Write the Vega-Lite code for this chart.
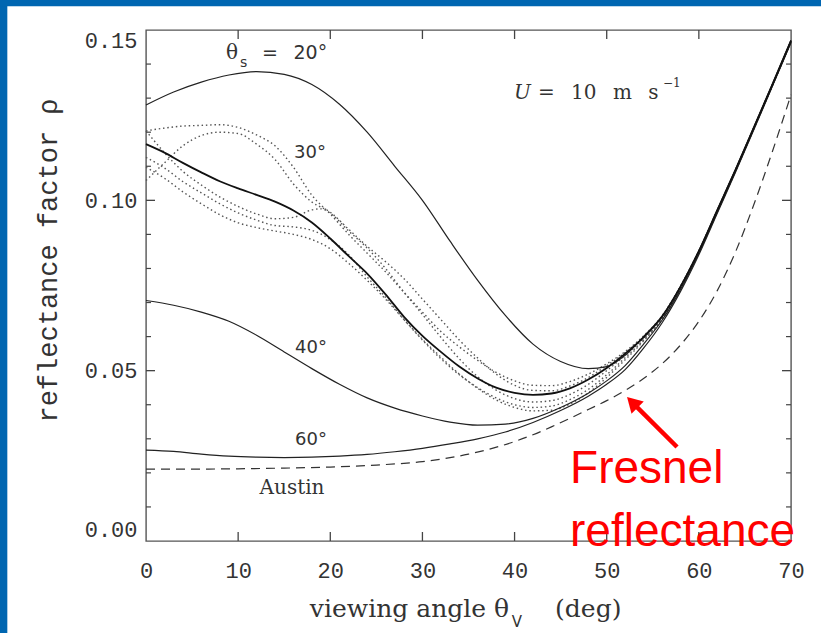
{
  "$schema": "https://vega.github.io/schema/vega-lite/v6.json",
  "width": 645,
  "height": 511,
  "autosize": {"type": "none"},
  "padding": {"left": 146, "top": 30, "right": 30, "bottom": 92},
  "background": "white",
  "config": {
    "view": {"stroke": "#555", "strokeWidth": 1.4},
    "axis": {"domain": false, "grid": false, "ticks": false}
  },
  "datasets": {
    "curves": [
      {"s":"20","x":0,"y":0.1280},{"s":"20","x":3,"y":0.1318},{"s":"20","x":6,"y":0.1347},{"s":"20","x":9,"y":0.1368},{"s":"20","x":12,"y":0.1378},{"s":"20","x":15,"y":0.1370},{"s":"20","x":18,"y":0.1340},{"s":"20","x":21,"y":0.1282},{"s":"20","x":24,"y":0.1200},{"s":"20","x":27,"y":0.1100},{"s":"20","x":30,"y":0.1000},{"s":"20","x":33,"y":0.0880},{"s":"20","x":36,"y":0.0765},{"s":"20","x":39,"y":0.0662},{"s":"20","x":42,"y":0.0578},{"s":"20","x":45,"y":0.0527},{"s":"20","x":48,"y":0.0506},{"s":"20","x":50,"y":0.0512},{"s":"20","x":52,"y":0.0545},{"s":"20","x":54,"y":0.0600},{"s":"20","x":56,"y":0.0660},{"s":"20","x":58,"y":0.0747},{"s":"20","x":60,"y":0.0852},{"s":"20","x":62,"y":0.0972},{"s":"20","x":64,"y":0.1092},{"s":"20","x":66,"y":0.1217},{"s":"20","x":68,"y":0.1342},{"s":"20","x":70,"y":0.1470},
      {"s":"40","x":0,"y":0.0706},{"s":"40","x":3,"y":0.0692},{"s":"40","x":6,"y":0.0672},{"s":"40","x":9,"y":0.0645},{"s":"40","x":12,"y":0.0604},{"s":"40","x":15,"y":0.0555},{"s":"40","x":18,"y":0.0506},{"s":"40","x":21,"y":0.0460},{"s":"40","x":24,"y":0.0420},{"s":"40","x":27,"y":0.0390},{"s":"40","x":30,"y":0.0367},{"s":"40","x":33,"y":0.0349},{"s":"40","x":36,"y":0.0340},{"s":"40","x":39,"y":0.0343},{"s":"40","x":42,"y":0.0360},{"s":"40","x":45,"y":0.0392},{"s":"40","x":48,"y":0.0434},{"s":"40","x":50,"y":0.0470},{"s":"40","x":52,"y":0.0515},{"s":"40","x":54,"y":0.0578},{"s":"40","x":56,"y":0.0648},{"s":"40","x":58,"y":0.0738},{"s":"40","x":60,"y":0.0845},{"s":"40","x":62,"y":0.0966},{"s":"40","x":64,"y":0.1087},{"s":"40","x":66,"y":0.1212},{"s":"40","x":68,"y":0.1338},{"s":"40","x":70,"y":0.1465},
      {"s":"60","x":0,"y":0.0267},{"s":"60","x":3,"y":0.0263},{"s":"60","x":6,"y":0.0255},{"s":"60","x":9,"y":0.0249},{"s":"60","x":12,"y":0.0246},{"s":"60","x":15,"y":0.0245},{"s":"60","x":18,"y":0.0246},{"s":"60","x":21,"y":0.0249},{"s":"60","x":24,"y":0.0254},{"s":"60","x":27,"y":0.0262},{"s":"60","x":30,"y":0.0272},{"s":"60","x":33,"y":0.0285},{"s":"60","x":36,"y":0.0300},{"s":"60","x":39,"y":0.0320},{"s":"60","x":42,"y":0.0348},{"s":"60","x":45,"y":0.0383},{"s":"60","x":48,"y":0.0425},{"s":"60","x":50,"y":0.0460},{"s":"60","x":52,"y":0.0503},{"s":"60","x":54,"y":0.0566},{"s":"60","x":56,"y":0.0640},{"s":"60","x":58,"y":0.0732},{"s":"60","x":60,"y":0.0840},{"s":"60","x":62,"y":0.0962},{"s":"60","x":64,"y":0.1084},{"s":"60","x":66,"y":0.1209},{"s":"60","x":68,"y":0.1336},{"s":"60","x":70,"y":0.1463}
    ],
    "main30": [
      {"x":0,"y":0.1165},{"x":2,"y":0.1140},{"x":4,"y":0.1110},{"x":6,"y":0.1082},{"x":8,"y":0.1056},{"x":10,"y":0.1035},{"x":12,"y":0.1016},{"x":14,"y":0.0996},{"x":16,"y":0.0970},{"x":18,"y":0.0935},{"x":20,"y":0.0888},{"x":22,"y":0.0836},{"x":24,"y":0.0785},{"x":26,"y":0.0724},{"x":28,"y":0.0658},{"x":30,"y":0.0602},{"x":32,"y":0.0555},{"x":34,"y":0.0512},{"x":36,"y":0.0477},{"x":38,"y":0.0450},{"x":40,"y":0.0435},{"x":42,"y":0.0429},{"x":44,"y":0.0433},{"x":46,"y":0.0448},{"x":48,"y":0.0474},{"x":50,"y":0.0508},{"x":52,"y":0.0550},{"x":54,"y":0.0598},{"x":56,"y":0.0658},{"x":58,"y":0.0746},{"x":60,"y":0.0851},{"x":62,"y":0.0971},{"x":64,"y":0.1091},{"x":66,"y":0.1216},{"x":68,"y":0.1341},{"x":70,"y":0.1469}
    ],
    "dotted": [
      {"s":"a","x":0,"y":0.1204},{"s":"a","x":2,"y":0.1212},{"s":"a","x":4,"y":0.1218},{"s":"a","x":6,"y":0.1220},{"s":"a","x":8,"y":0.1222},{"s":"a","x":10,"y":0.1214},{"s":"a","x":12,"y":0.1192},{"s":"a","x":14,"y":0.1160},{"s":"a","x":16,"y":0.1097},{"s":"a","x":18,"y":0.1015},{"s":"a","x":20,"y":0.0960},{"s":"a","x":22,"y":0.0900},{"s":"a","x":24,"y":0.0845},{"s":"a","x":26,"y":0.0790},{"s":"a","x":28,"y":0.0730},{"s":"a","x":30,"y":0.0672},{"s":"a","x":32,"y":0.0615},{"s":"a","x":34,"y":0.0570},{"s":"a","x":36,"y":0.0530},{"s":"a","x":38,"y":0.0495},{"s":"a","x":40,"y":0.0470},{"s":"a","x":42,"y":0.0457},{"s":"a","x":44,"y":0.0456},{"s":"a","x":46,"y":0.0468},{"s":"a","x":48,"y":0.0490},{"s":"a","x":50,"y":0.0520},{"s":"a","x":52,"y":0.0556},{"s":"a","x":54,"y":0.0602},{"s":"a","x":56,"y":0.0661},{"s":"a","x":58,"y":0.0748},{"s":"a","x":60,"y":0.0852},{"s":"a","x":62,"y":0.0971},{"s":"a","x":64,"y":0.1091},{"s":"a","x":66,"y":0.1216},{"s":"a","x":68,"y":0.1341},{"s":"a","x":70,"y":0.1469},
      {"s":"b","x":0,"y":0.1058},{"s":"b","x":2,"y":0.1110},{"s":"b","x":4,"y":0.1160},{"s":"b","x":6,"y":0.1190},{"s":"b","x":8,"y":0.1200},{"s":"b","x":10,"y":0.1196},{"s":"b","x":12,"y":0.1165},{"s":"b","x":14,"y":0.1120},{"s":"b","x":16,"y":0.1048},{"s":"b","x":18,"y":0.0995},{"s":"b","x":20,"y":0.0965},{"s":"b","x":22,"y":0.0915},{"s":"b","x":24,"y":0.0865},{"s":"b","x":26,"y":0.0820},{"s":"b","x":28,"y":0.0770},{"s":"b","x":30,"y":0.0710},{"s":"b","x":32,"y":0.0650},{"s":"b","x":34,"y":0.0590},{"s":"b","x":36,"y":0.0537},{"s":"b","x":38,"y":0.0490},{"s":"b","x":40,"y":0.0457},{"s":"b","x":42,"y":0.0442},{"s":"b","x":44,"y":0.0441},{"s":"b","x":46,"y":0.0455},{"s":"b","x":48,"y":0.0480},{"s":"b","x":50,"y":0.0515},{"s":"b","x":52,"y":0.0553},{"s":"b","x":54,"y":0.0599},{"s":"b","x":56,"y":0.0657},{"s":"b","x":58,"y":0.0745},{"s":"b","x":60,"y":0.0850},{"s":"b","x":62,"y":0.0970},{"s":"b","x":64,"y":0.1090},{"s":"b","x":66,"y":0.1215},{"s":"b","x":68,"y":0.1340},{"s":"b","x":70,"y":0.1468},
      {"s":"c","x":0,"y":0.1204},{"s":"c","x":2,"y":0.1140},{"s":"c","x":4,"y":0.1085},{"s":"c","x":6,"y":0.1045},{"s":"c","x":8,"y":0.1010},{"s":"c","x":10,"y":0.0982},{"s":"c","x":12,"y":0.0960},{"s":"c","x":14,"y":0.0946},{"s":"c","x":16,"y":0.0950},{"s":"c","x":18,"y":0.0972},{"s":"c","x":19,"y":0.0975},{"s":"c","x":20,"y":0.0962},{"s":"c","x":22,"y":0.0910},{"s":"c","x":24,"y":0.0860},{"s":"c","x":26,"y":0.0800},{"s":"c","x":28,"y":0.0730},{"s":"c","x":30,"y":0.0665},{"s":"c","x":32,"y":0.0598},{"s":"c","x":34,"y":0.0535},{"s":"c","x":36,"y":0.0482},{"s":"c","x":38,"y":0.0443},{"s":"c","x":40,"y":0.0418},{"s":"c","x":42,"y":0.0408},{"s":"c","x":44,"y":0.0412},{"s":"c","x":46,"y":0.0430},{"s":"c","x":48,"y":0.0460},{"s":"c","x":50,"y":0.0500},{"s":"c","x":52,"y":0.0545},{"s":"c","x":54,"y":0.0594},{"s":"c","x":56,"y":0.0654},{"s":"c","x":58,"y":0.0743},{"s":"c","x":60,"y":0.0848},{"s":"c","x":62,"y":0.0968},{"s":"c","x":64,"y":0.1089},{"s":"c","x":66,"y":0.1214},{"s":"c","x":68,"y":0.1339},{"s":"c","x":70,"y":0.1467},
      {"s":"d","x":0,"y":0.1126},{"s":"d","x":2,"y":0.1095},{"s":"d","x":4,"y":0.1055},{"s":"d","x":6,"y":0.1022},{"s":"d","x":8,"y":0.0990},{"s":"d","x":10,"y":0.0963},{"s":"d","x":12,"y":0.0942},{"s":"d","x":14,"y":0.0926},{"s":"d","x":16,"y":0.0922},{"s":"d","x":18,"y":0.0912},{"s":"d","x":20,"y":0.0885},{"s":"d","x":22,"y":0.0840},{"s":"d","x":24,"y":0.0775},{"s":"d","x":26,"y":0.0715},{"s":"d","x":28,"y":0.0650},{"s":"d","x":30,"y":0.0590},{"s":"d","x":32,"y":0.0535},{"s":"d","x":34,"y":0.0488},{"s":"d","x":36,"y":0.0450},{"s":"d","x":38,"y":0.0420},{"s":"d","x":40,"y":0.0400},{"s":"d","x":42,"y":0.0392},{"s":"d","x":44,"y":0.0396},{"s":"d","x":46,"y":0.0415},{"s":"d","x":48,"y":0.0445},{"s":"d","x":50,"y":0.0488},{"s":"d","x":52,"y":0.0538},{"s":"d","x":54,"y":0.0590},{"s":"d","x":56,"y":0.0652},{"s":"d","x":58,"y":0.0742},{"s":"d","x":60,"y":0.0847},{"s":"d","x":62,"y":0.0967},{"s":"d","x":64,"y":0.1088},{"s":"d","x":66,"y":0.1213},{"s":"d","x":68,"y":0.1339},{"s":"d","x":70,"y":0.1466},
      {"s":"e","x":0,"y":0.1097},{"s":"e","x":2,"y":0.1065},{"s":"e","x":4,"y":0.1025},{"s":"e","x":6,"y":0.0990},{"s":"e","x":8,"y":0.0958},{"s":"e","x":10,"y":0.0934},{"s":"e","x":12,"y":0.0920},{"s":"e","x":14,"y":0.0910},{"s":"e","x":16,"y":0.0900},{"s":"e","x":18,"y":0.0885},{"s":"e","x":20,"y":0.0858},{"s":"e","x":22,"y":0.0815},{"s":"e","x":24,"y":0.0765},{"s":"e","x":26,"y":0.0710},{"s":"e","x":28,"y":0.0650},{"s":"e","x":30,"y":0.0592},{"s":"e","x":32,"y":0.0540},{"s":"e","x":34,"y":0.0490},{"s":"e","x":36,"y":0.0448},{"s":"e","x":38,"y":0.0414},{"s":"e","x":40,"y":0.0392},{"s":"e","x":42,"y":0.0382},{"s":"e","x":44,"y":0.0384},{"s":"e","x":46,"y":0.0402},{"s":"e","x":48,"y":0.0435},{"s":"e","x":50,"y":0.0480},{"s":"e","x":52,"y":0.0532},{"s":"e","x":54,"y":0.0587},{"s":"e","x":56,"y":0.0650},{"s":"e","x":58,"y":0.0740},{"s":"e","x":60,"y":0.0846},{"s":"e","x":62,"y":0.0966},{"s":"e","x":64,"y":0.1087},{"s":"e","x":66,"y":0.1212},{"s":"e","x":68,"y":0.1338},{"s":"e","x":70,"y":0.1465}
    ],
    "fresnel": [
      {"x":0,"y":0.0211},{"x":5,"y":0.0211},{"x":10,"y":0.0212},{"x":15,"y":0.0214},{"x":20,"y":0.0217},{"x":25,"y":0.0223},{"x":30,"y":0.0233},{"x":35,"y":0.0255},{"x":40,"y":0.0292},{"x":42,"y":0.0312},{"x":44,"y":0.0335},{"x":46,"y":0.0360},{"x":48,"y":0.0386},{"x":50,"y":0.0412},{"x":52,"y":0.0442},{"x":54,"y":0.0477},{"x":56,"y":0.0520},{"x":58,"y":0.0575},{"x":60,"y":0.0645},{"x":62,"y":0.0735},{"x":64,"y":0.0850},{"x":66,"y":0.0990},{"x":68,"y":0.1145},{"x":70,"y":0.1310}
    ],
    "xticks": [{"v":10},{"v":20},{"v":30},{"v":40},{"v":50},{"v":60}],
    "ymajor": [{"v":0.05},{"v":0.10}],
    "yminor": [{"v":0.01},{"v":0.02},{"v":0.03},{"v":0.04},{"v":0.06},{"v":0.07},{"v":0.08},{"v":0.09},{"v":0.11},{"v":0.12},{"v":0.13},{"v":0.14}]
  },
  "resolve": {"axis": {"x": "independent", "y": "independent"}},
  "layer": [
    {
      "data": {"values": [{}]},
      "mark": {"type": "rect", "color": "#0066b1"},
      "encoding": {
        "x": {"datum": -17, "type": "quantitative", "scale": {"domain": [0, 70], "nice": false}, "axis": null},
        "x2": {"datum": -15.05},
        "y": {"datum": -0.05, "type": "quantitative", "scale": {"domain": [0, 0.15], "nice": false, "zero": false}, "axis": null},
        "y2": {"datum": 0.17}
      }
    },
    {
      "data": {"values": [{}]},
      "mark": {"type": "rect", "color": "#0066b1"},
      "encoding": {
        "x": {"datum": -17, "type": "quantitative", "axis": null},
        "x2": {"datum": 75},
        "y": {"datum": 0.1570, "type": "quantitative", "axis": null},
        "y2": {"datum": 0.17}
      }
    },
    {
      "data": {"values": [{"x": 0, "y": 0}]},
      "mark": {"type": "point", "opacity": 0},
      "encoding": {
        "x": {"field": "x", "type": "quantitative", "scale": {"domain": [0, 70], "nice": false},
          "axis": {"orient": "bottom", "title": null, "values": [0,10,20,30,40,50,60,70], "format": "d",
            "labelFont": "Liberation Mono", "labelFontSize": 22, "labelColor": "#333", "labelPadding": 19, "labelFlush": false}},
        "y": {"field": "y", "type": "quantitative", "scale": {"domain": [0, 0.15], "nice": false},
          "axis": {"orient": "left", "values": [0, 0.05, 0.1, 0.15], "format": ".2f",
            "labelFont": "Liberation Mono", "labelFontSize": 22, "labelColor": "#333", "labelPadding": 9, "labelFlush": true,
            "title": "reflectance factor ρ", "titleFont": "Liberation Mono", "titleFontSize": 27, "titleFontWeight": "normal", "titleColor": "#333",
            "titleX": -98, "titleY": 230, "titleAngle": -90, "titleAlign": "center", "titleBaseline": "middle"}}
      }
    },
    {
      "data": {"name": "ymajor"},
      "mark": {"type": "rule", "color": "#444", "strokeWidth": 1.3},
      "encoding": {
        "x": {"datum": 0, "type": "quantitative", "axis": null},
        "x2": {"datum": 0.98},
        "y": {"field": "v", "type": "quantitative", "axis": null}
      }
    },
    {
      "data": {"name": "yminor"},
      "mark": {"type": "rule", "color": "#444", "strokeWidth": 1.2},
      "encoding": {
        "x": {"datum": 0, "type": "quantitative", "axis": null},
        "x2": {"datum": 0.54},
        "y": {"field": "v", "type": "quantitative", "axis": null}
      }
    },
    {
      "data": {"name": "ymajor"},
      "mark": {"type": "rule", "color": "#444", "strokeWidth": 1.3},
      "encoding": {
        "x": {"datum": 69.02, "type": "quantitative", "axis": null},
        "x2": {"datum": 70},
        "y": {"field": "v", "type": "quantitative", "axis": null}
      }
    },
    {
      "data": {"name": "yminor"},
      "mark": {"type": "rule", "color": "#444", "strokeWidth": 1.2},
      "encoding": {
        "x": {"datum": 69.46, "type": "quantitative", "axis": null},
        "x2": {"datum": 70},
        "y": {"field": "v", "type": "quantitative", "axis": null}
      }
    },
    {
      "data": {"name": "xticks"},
      "mark": {"type": "rule", "color": "#444", "strokeWidth": 1.3},
      "encoding": {
        "x": {"field": "v", "type": "quantitative", "axis": null},
        "y": {"datum": 0, "type": "quantitative", "axis": null},
        "y2": {"datum": 0.00264}
      }
    },
    {
      "data": {"name": "xticks"},
      "mark": {"type": "rule", "color": "#444", "strokeWidth": 1.3},
      "encoding": {
        "x": {"field": "v", "type": "quantitative", "axis": null},
        "y": {"datum": 0.14736, "type": "quantitative", "axis": null},
        "y2": {"datum": 0.15}
      }
    },
    {
      "data": {"name": "fresnel"},
      "mark": {"type": "line", "color": "#333", "strokeWidth": 1.2, "strokeDash": [9, 6], "interpolate": "monotone"},
      "encoding": {
        "x": {"field": "x", "type": "quantitative", "axis": null},
        "y": {"field": "y", "type": "quantitative", "axis": null}
      }
    },
    {
      "data": {"name": "dotted"},
      "mark": {"type": "line", "color": "#555", "strokeWidth": 1.4, "strokeDash": [1.5, 2.8], "interpolate": "monotone"},
      "encoding": {
        "x": {"field": "x", "type": "quantitative", "axis": null},
        "y": {"field": "y", "type": "quantitative", "axis": null},
        "detail": {"field": "s"}
      }
    },
    {
      "data": {"name": "curves"},
      "mark": {"type": "line", "color": "#222", "strokeWidth": 1.2, "interpolate": "monotone"},
      "encoding": {
        "x": {"field": "x", "type": "quantitative", "axis": null},
        "y": {"field": "y", "type": "quantitative", "axis": null},
        "detail": {"field": "s"}
      }
    },
    {
      "data": {"name": "main30"},
      "mark": {"type": "line", "color": "#111", "strokeWidth": 1.8, "interpolate": "monotone"},
      "encoding": {
        "x": {"field": "x", "type": "quantitative", "axis": null},
        "y": {"field": "y", "type": "quantitative", "axis": null}
      }
    },
    {
      "data": {"values": [{"t": "30°", "x": 17.8, "y": 0.1139}, {"t": "40°", "x": 17.9, "y": 0.0567}, {"t": "60°", "x": 17.9, "y": 0.0296}]},
      "mark": {"type": "text", "font": "DejaVu Sans", "fontSize": 18, "color": "#333", "align": "center", "baseline": "middle"},
      "encoding": {
        "x": {"field": "x", "type": "quantitative", "axis": null},
        "y": {"field": "y", "type": "quantitative", "axis": null},
        "text": {"field": "t"}
      }
    },
    {
      "data": {"values": [{"t": "=\u2002 20°", "x": 12.59, "y": 0.1415}]},
      "mark": {"type": "text", "font": "DejaVu Sans", "fontSize": 19, "color": "#333", "align": "left", "baseline": "alphabetic"},
      "encoding": {
        "x": {"field": "x", "type": "quantitative", "axis": null},
        "y": {"field": "y", "type": "quantitative", "axis": null},
        "text": {"field": "t"}
      }
    },
    {
      "data": {"values": [{"t": "θ", "x": 8.68, "y": 0.1415}]},
      "mark": {"type": "text", "font": "DejaVu Serif", "fontSize": 20, "color": "#333", "align": "left", "baseline": "alphabetic"},
      "encoding": {
        "x": {"field": "x", "type": "quantitative", "axis": null},
        "y": {"field": "y", "type": "quantitative", "axis": null},
        "text": {"field": "t"}
      }
    },
    {
      "data": {"values": [{"t": "s", "x": 10.2, "y": 0.1391}]},
      "mark": {"type": "text", "font": "DejaVu Sans", "fontSize": 14, "color": "#333", "align": "left", "baseline": "alphabetic"},
      "encoding": {
        "x": {"field": "x", "type": "quantitative", "axis": null},
        "y": {"field": "y", "type": "quantitative", "axis": null},
        "text": {"field": "t"}
      }
    },
    {
      "data": {"values": [{"t": "Austin", "x": 15.85, "y": 0.0156}]},
      "mark": {"type": "text", "font": "DejaVu Serif", "fontSize": 20, "color": "#333", "align": "center", "baseline": "middle"},
      "encoding": {
        "x": {"field": "x", "type": "quantitative", "axis": null},
        "y": {"field": "y", "type": "quantitative", "axis": null},
        "text": {"field": "t"}
      }
    },
    {
      "data": {"values": [{"t": "U", "x": 39.94, "y": 0.1297}]},
      "mark": {"type": "text", "font": "DejaVu Serif", "fontSize": 20, "fontStyle": "italic", "color": "#333", "align": "left", "baseline": "alphabetic"},
      "encoding": {
        "x": {"field": "x", "type": "quantitative", "axis": null},
        "y": {"field": "y", "type": "quantitative", "axis": null},
        "text": {"field": "t"}
      }
    },
    {
      "data": {"values": [{"t": "=\u2002 10\u2002 m\u2002 s", "x": 42.54, "y": 0.1297}]},
      "mark": {"type": "text", "font": "DejaVu Serif", "fontSize": 20, "color": "#333", "align": "left", "baseline": "alphabetic"},
      "encoding": {
        "x": {"field": "x", "type": "quantitative", "axis": null},
        "y": {"field": "y", "type": "quantitative", "axis": null},
        "text": {"field": "t"}
      }
    },
    {
      "data": {"values": [{"t": "−1", "x": 56.1, "y": 0.1333}]},
      "mark": {"type": "text", "font": "DejaVu Serif", "fontSize": 12, "color": "#333", "align": "left", "baseline": "alphabetic"},
      "encoding": {
        "x": {"field": "x", "type": "quantitative", "axis": null},
        "y": {"field": "y", "type": "quantitative", "axis": null},
        "text": {"field": "t"}
      }
    },
    {
      "data": {"values": [{"t": "viewing angle θ", "x": 39.4, "y": -0.0223}]},
      "mark": {"type": "text", "font": "DejaVu Serif", "fontSize": 25, "color": "#333", "align": "right", "baseline": "alphabetic"},
      "encoding": {
        "x": {"field": "x", "type": "quantitative", "axis": null},
        "y": {"field": "y", "type": "quantitative", "axis": null},
        "text": {"field": "t"}
      }
    },
    {
      "data": {"values": [{"t": "V", "x": 39.7, "y": -0.0252}]},
      "mark": {"type": "text", "font": "DejaVu Sans", "fontSize": 15, "color": "#333", "align": "left", "baseline": "alphabetic"},
      "encoding": {
        "x": {"field": "x", "type": "quantitative", "axis": null},
        "y": {"field": "y", "type": "quantitative", "axis": null},
        "text": {"field": "t"}
      }
    },
    {
      "data": {"values": [{"t": "(deg)", "x": 44.4, "y": -0.0223}]},
      "mark": {"type": "text", "font": "DejaVu Serif", "fontSize": 25, "color": "#333", "align": "left", "baseline": "alphabetic"},
      "encoding": {
        "x": {"field": "x", "type": "quantitative", "axis": null},
        "y": {"field": "y", "type": "quantitative", "axis": null},
        "text": {"field": "t"}
      }
    },
    {
      "data": {"values": [{}]},
      "mark": {"type": "rule", "color": "#ff0000", "strokeWidth": 4.5},
      "encoding": {
        "x": {"datum": 57.63, "type": "quantitative", "axis": null},
        "y": {"datum": 0.0276, "type": "quantitative", "axis": null},
        "x2": {"datum": 52.96},
        "y2": {"datum": 0.0402}
      }
    },
    {
      "data": {"values": [{}]},
      "mark": {"type": "point", "shape": "triangle-up", "angle": -45, "size": 300, "filled": true, "color": "#ff0000", "opacity": 1},
      "encoding": {
        "x": {"datum": 52.78, "type": "quantitative", "axis": null},
        "y": {"datum": 0.0407, "type": "quantitative", "axis": null}
      }
    },
    {
      "data": {"values": [{"t": "Fresnel", "x": 46.02, "y": 0.0170}, {"t": "reflectance", "x": 46.02, "y": -0.0016}]},
      "mark": {"type": "text", "font": "Liberation Sans", "fontSize": 46, "color": "#ff0000", "align": "left", "baseline": "alphabetic"},
      "encoding": {
        "x": {"field": "x", "type": "quantitative", "axis": null},
        "y": {"field": "y", "type": "quantitative", "axis": null},
        "text": {"field": "t"}
      }
    }
  ]
}
